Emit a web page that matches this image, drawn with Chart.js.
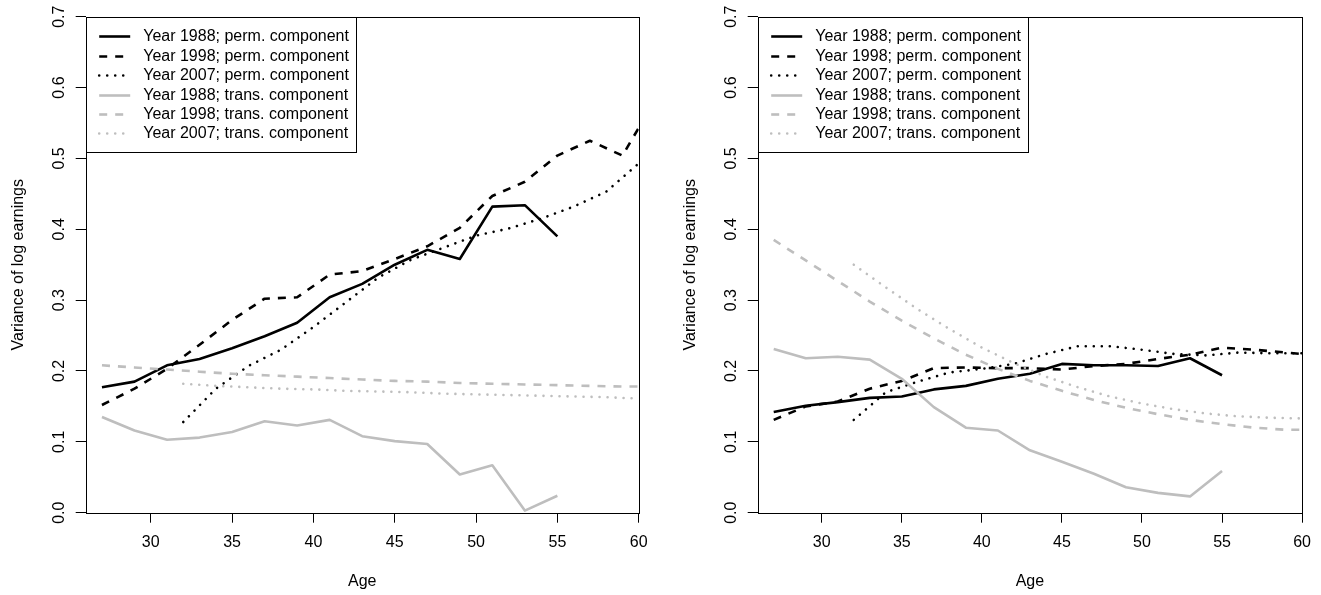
<!DOCTYPE html>
<html>
<head>
<meta charset="utf-8">
<script src="https://cdn.jsdelivr.net/npm/chart.js@4/dist/chart.umd.min.js"></script>
<style>
  html, body { margin: 0; padding: 0; background: #fff; }
  #wrap { position: relative; width: 1321px; height: 595px; overflow: hidden; }
  canvas { position: absolute; top: 0; }
</style>
</head>
<body>
<div id="wrap">
  <canvas id="left" width="660" height="595" style="left:0px;width:660px;height:595px"></canvas>
  <canvas id="right" width="661" height="595" style="left:660px;width:661px;height:595px"></canvas>
</div>
<script>
// ---- tick labels ----
const xTickValues = [30, 35, 40, 45, 50, 55, 60];
const yTickValues = [0.0, 0.1, 0.2, 0.3, 0.4, 0.5, 0.6, 0.7];

// ---- legend entries ----
const seriesLabels = [
  'Year 1988; perm. component',
  'Year 1998; perm. component',
  'Year 2007; perm. component',
  'Year 1988; trans. component',
  'Year 1998; trans. component',
  'Year 2007; trans. component'
];

// ---- ages ----
const ages1988 = [27, 29, 31, 33, 35, 37, 39, 41, 43, 45, 47, 49, 51, 53, 55];
const ages1998 = [27, 29, 31, 33, 35, 37, 39, 41, 43, 45, 47, 49, 51, 53, 55, 57, 59, 60];
const ages2007 = [32, 34, 36, 38, 40, 42, 44, 46, 48, 50, 52, 54, 56, 58, 60];

// ---- left panel values ----
const leftPerm1988  = [0.177, 0.185, 0.208, 0.217, 0.232, 0.249, 0.268, 0.304, 0.323, 0.350, 0.371, 0.358, 0.432, 0.434, 0.390];
const leftPerm1998  = [0.152, 0.175, 0.203, 0.237, 0.272, 0.302, 0.304, 0.336, 0.341, 0.358, 0.376, 0.402, 0.447, 0.467, 0.504, 0.525, 0.504, 0.543];
const leftPerm2007  = [0.128, 0.175, 0.207, 0.230, 0.262, 0.297, 0.332, 0.357, 0.374, 0.391, 0.401, 0.415, 0.432, 0.453, 0.493];
const leftTrans1988 = [0.135, 0.116, 0.103, 0.106, 0.114, 0.129, 0.123, 0.131, 0.108, 0.101, 0.097, 0.054, 0.067, 0.003, 0.024];
const leftTrans1998 = [0.208, 0.205, 0.202, 0.199, 0.196, 0.194, 0.192, 0.190, 0.188, 0.186, 0.185, 0.183, 0.182, 0.181, 0.180, 0.179, 0.178, 0.178];
const leftTrans2007 = [0.182, 0.179, 0.177, 0.175, 0.174, 0.172, 0.171, 0.170, 0.168, 0.167, 0.166, 0.165, 0.164, 0.163, 0.161];

// ---- right panel values ----
const rightPerm1988  = [0.142, 0.151, 0.156, 0.162, 0.164, 0.174, 0.179, 0.189, 0.196, 0.210, 0.208, 0.208, 0.207, 0.218, 0.194];
const rightPerm1998  = [0.131, 0.150, 0.157, 0.175, 0.186, 0.204, 0.205, 0.204, 0.204, 0.202, 0.207, 0.210, 0.217, 0.223, 0.233, 0.230, 0.226, 0.224];
const rightPerm2007  = [0.131, 0.170, 0.185, 0.198, 0.203, 0.210, 0.224, 0.235, 0.235, 0.230, 0.224, 0.222, 0.226, 0.225, 0.225];
const rightTrans1988 = [0.231, 0.218, 0.220, 0.216, 0.189, 0.149, 0.120, 0.116, 0.088, 0.072, 0.055, 0.036, 0.028, 0.023, 0.059];
const rightTrans1998 = [0.385, 0.356, 0.327, 0.298, 0.271, 0.246, 0.223, 0.203, 0.186, 0.172, 0.159, 0.148, 0.139, 0.131, 0.125, 0.120, 0.117, 0.117];
const rightTrans2007 = [0.350, 0.318, 0.287, 0.259, 0.233, 0.211, 0.192, 0.177, 0.164, 0.154, 0.146, 0.140, 0.136, 0.134, 0.133];

// ---- drawing setup ----
const FONT = '"Liberation Sans", Arial, Helvetica, sans-serif';
const BLACK = '#000000';
const GREY = '#bebebe';
const LINE_W = 2.6;
const DASH = [8, 8];
const DOT = [0.01, 8];

function points(xs, ys) {
  return xs.map((x, i) => ({ x: x, y: ys[i] }));
}

function makeDatasets(p88, p98, p07, t88, t98, t07) {
  const defs = [
    [ages1988, p88, BLACK, []],
    [ages1998, p98, BLACK, DASH],
    [ages2007, p07, BLACK, DOT],
    [ages1988, t88, GREY, []],
    [ages1998, t98, GREY, DASH],
    [ages2007, t07, GREY, DOT]
  ];
  return defs.map((d, i) => ({
    label: seriesLabels[i],
    data: points(d[0], d[1]),
    borderColor: d[2],
    backgroundColor: d[2],
    borderWidth: LINE_W,
    borderDash: d[3],
    borderCapStyle: d[3] === DOT ? 'round' : 'butt',
    borderJoinStyle: 'round',
    pointRadius: 0,
    tension: 0,
    fill: false,
    clip: 0
  })).reverse();
}

// frame, legend, rotated y labels and axis titles
const framePlugin = {
  id: 'frame',
  afterDatasetsDraw(chart) {
    const ctx = chart.ctx;
    const a = chart.chartArea;
    ctx.save();
    ctx.strokeStyle = BLACK;
    ctx.lineWidth = 1;
    const l = Math.round(a.left) + 0.5, r = Math.round(a.right) + 0.5;
    const t = Math.round(a.top) + 0.5, b = Math.round(a.bottom) + 0.5;
    ctx.strokeRect(l, t, r - l, b - t);

    // legend box in the top-left corner of the plot
    const lw = 270, lh = 135;
    ctx.fillStyle = '#ffffff';
    ctx.fillRect(l, t, lw, lh);
    ctx.strokeRect(l, t, lw, lh);
    ctx.font = '16px ' + FONT;
    ctx.textBaseline = 'middle';
    ctx.textAlign = 'left';
    const order = chart.data.datasets.slice().reverse();
    order.forEach((ds, i) => {
      const y = Math.round(a.top + 19.5 + i * 19.45) + 0.5;
      ctx.save();
      ctx.strokeStyle = ds.borderColor;
      ctx.lineWidth = ds.borderWidth;
      ctx.lineCap = ds.borderCapStyle;
      ctx.setLineDash(ds.borderDash);
      ctx.beginPath();
      ctx.moveTo(a.left + 13.5, y);
      ctx.lineTo(a.left + 44.5, y);
      ctx.stroke();
      ctx.restore();
      ctx.fillStyle = BLACK;
      ctx.fillText(ds.label, a.left + 57.5, y);
    });
    ctx.restore();
  },
  afterDraw(chart) {
    const ctx = chart.ctx;
    const a = chart.chartArea;
    const ys = chart.scales.y;
    ctx.save();
    ctx.fillStyle = BLACK;
    ctx.font = '16px ' + FONT;
    ctx.textAlign = 'center';
    ctx.textBaseline = 'alphabetic';
    ys.ticks.forEach(tk => {
      const py = ys.getPixelForValue(tk.value);
      ctx.save();
      ctx.translate(a.left - 21.7, py);
      ctx.rotate(-Math.PI / 2);
      ctx.fillText(tk.value.toFixed(1), 0, 0);
      ctx.restore();
    });
    ctx.save();
    ctx.translate(a.left - 62.5, (a.top + a.bottom) / 2);
    ctx.rotate(-Math.PI / 2);
    ctx.fillText('Variance of log earnings', 0, 0);
    ctx.restore();
    ctx.fillText('Age', (a.left + a.right) / 2, 586);
    ctx.restore();
  }
};

function makeChart(id, geom, datasets) {
  return new Chart(document.getElementById(id), {
    type: 'line',
    data: { datasets: datasets },
    options: {
      responsive: false,
      animation: false,
      devicePixelRatio: 1,
      layout: { padding: { left: 0, top: geom.top, right: geom.width - geom.right, bottom: 0 } },
      plugins: { legend: { display: false }, tooltip: { enabled: false }, title: { display: false } },
      scales: {
        x: {
          type: 'linear', min: 26, max: 60,
          afterBuildTicks: s => { s.ticks = xTickValues.map(v => ({ value: v })); },
          afterFit: s => { s.height = geom.height - geom.bottom; },
          grid: { drawOnChartArea: false, drawTicks: true, tickLength: 10, color: BLACK, lineWidth: 1 },
          border: { display: false },
          ticks: { color: BLACK, font: { family: FONT, size: 16 }, padding: 10, maxRotation: 0, autoSkip: false, callback: v => String(v) }
        },
        y: {
          type: 'linear', min: 0, max: 0.7,
          afterBuildTicks: s => { s.ticks = yTickValues.map(v => ({ value: v })); },
          afterFit: s => { s.width = geom.left; },
          grid: { drawOnChartArea: false, drawTicks: true, tickLength: 10, color: BLACK, lineWidth: 1 },
          border: { display: false },
          ticks: { display: false }
        }
      }
    },
    plugins: [framePlugin]
  });
}

makeChart('left', { left: 85.7, right: 638.7, top: 16.7, bottom: 512.7, width: 660, height: 595 },
  makeDatasets(leftPerm1988, leftPerm1998, leftPerm2007, leftTrans1988, leftTrans1998, leftTrans2007));
makeChart('right', { left: 97.7, right: 650.3, top: 16.7, bottom: 512.7, width: 661, height: 595 },
  makeDatasets(rightPerm1988, rightPerm1998, rightPerm2007, rightTrans1988, rightTrans1998, rightTrans2007));
</script>
</body>
</html>
